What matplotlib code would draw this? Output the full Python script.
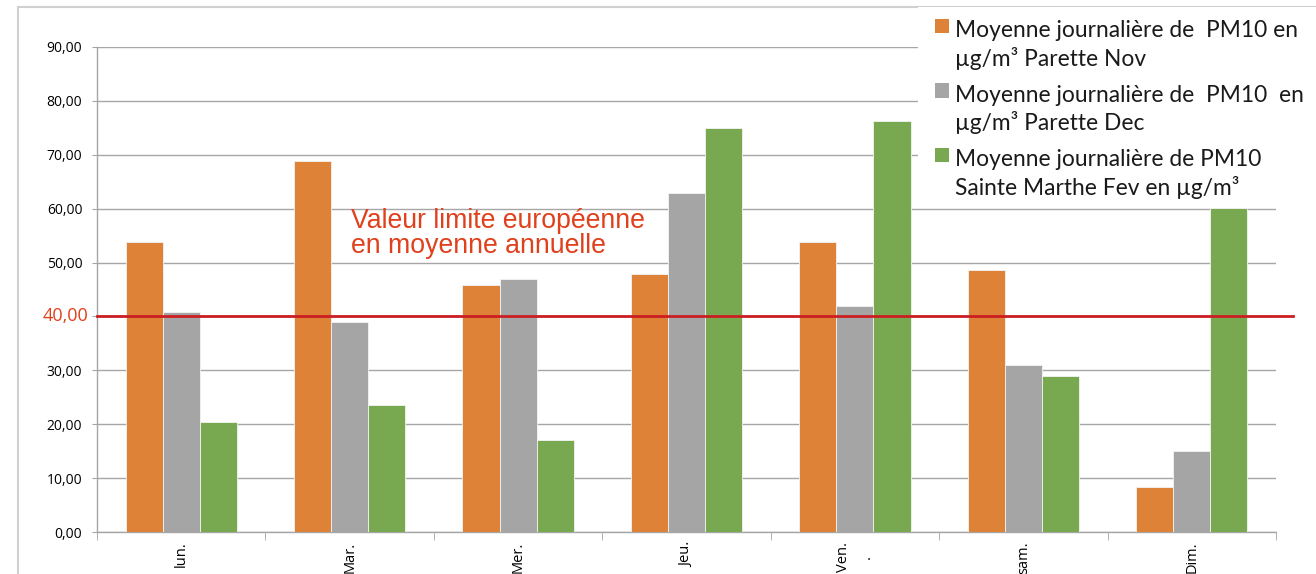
import matplotlib
matplotlib.use("Agg")
from matplotlib import pyplot as plt
from matplotlib.patches import Rectangle
from matplotlib.lines import Line2D
import numpy as np

# data
days = ["lun.", "Mar.", "Mer.", "Jeu.", "Ven.\n.", "sam.", "Dim."]
nov = [53.8, 68.9, 45.9, 47.8, 53.9, 48.7, 8.3]
dec = [40.9, 39.0, 47.0, 63.0, 42.0, 31.0, 15.0]
fev = [20.4, 23.5, 17.0, 75.0, 76.2, 29.0, 60.2]
series_labels = [
    "Moyenne journalière de  PM10 en\nµg/m³ Parette Nov",
    "Moyenne journalière de  PM10  en\nµg/m³ Parette Dec",
    "Moyenne journalière de PM10\nSainte Marthe Fev en µg/m³",
]
limit = 40.0
yticks = np.arange(0, 100, 10)

colors = ["#DD8236", "#A5A5A5", "#78A850"]
W, H = 1316, 574
plt.rcParams['font.family'] = ['Open Sans', 'DejaVu Sans']

fig = plt.figure(figsize=(W / 100, H / 100), dpi=100, facecolor='w')
ax = fig.add_axes([97 / W, 1 - 532 / H, 1179 / W, 485 / H])

# outer chart-area border (light grey)
fig.add_artist(Line2D([18 / W, 1], [1 - 7 / H, 1 - 7 / H], transform=fig.transFigure, color='#D0D0D0', lw=1.5))
fig.add_artist(Line2D([18 / W, 18 / W], [0, 1 - 7 / H], transform=fig.transFigure, color='#D0D0D0', lw=1.5))

x = np.arange(len(days))
bw = 0.22
for i, vals in enumerate([nov, dec, fev]):
    ax.bar(x + (i - 1) * bw, vals, width=bw, color=colors[i], edgecolor='#F4F4F4', linewidth=0.6, zorder=3)

ax.set_xlim(-0.5, len(days) - 0.5)
ax.set_ylim(0, 90)
ax.set_yticks(yticks)
ax.set_yticklabels([f"{v:.2f}".replace('.', ',') if v != limit else "" for v in yticks], fontsize=10)
ax.yaxis.grid(True, color='#A6A6A6', linewidth=1.0, zorder=0)
ax.set_axisbelow(True)

ax.set_xticks(x)
ax.set_xticklabels(days, rotation=90, fontsize=10.5, va='top', ha='center', linespacing=1.8)
ax.set_xticks(np.arange(-0.5, len(days)), minor=True)
ax.tick_params(axis='x', which='major', length=0, pad=7)
ax.tick_params(axis='x', which='minor', length=6, color='#A6A6A6', direction='out')
ax.tick_params(axis='y', length=3.6, color='#A6A6A6', pad=7)

for s in ['top', 'right']:
    ax.spines[s].set_visible(False)
for s in ['left', 'bottom']:
    ax.spines[s].set_color('#A6A6A6')
    ax.spines[s].set_linewidth(1.0)

# 40,00 label in red, larger
ax.annotate("40,00", xy=(0, limit), xycoords=ax.get_yaxis_transform(), xytext=(-9, 0),
            textcoords='offset pixels', color='#E0401C', fontsize=13, ha='right', va='center')

# limit line
ax.axhline(limit, xmin=0, xmax=(1293 - 97) / 1179, color='#CC1E22', linewidth=2, clip_on=False, zorder=5)
ax.text(1.01, 60.1, "Valeur limite européenne\nen moyenne annuelle", color='#E0401C',
        fontsize=19.2, family='Liberation Sans', va='top', ha='left', linespacing=0.95, zorder=6)

# legend (white box over the plot, top right)
fig.add_artist(Rectangle((918 / W, 1 - 202 / H), (W - 918) / W, 195 / H, transform=fig.transFigure,
                         facecolor='w', edgecolor='none', zorder=10))
for i, lab in enumerate(series_labels):
    top = 19 + i * 64.5
    fig.add_artist(Rectangle((935 / W, 1 - (top + 14) / H), 14 / W, 14 / H, transform=fig.transFigure,
                             facecolor=colors[i], edgecolor='none', zorder=11))
    fig.text(955 / W, 1 - (top + 1) / H, lab, fontsize=16.4, family=['Lato', 'DejaVu Sans'],
             va='top', ha='left', linespacing=1.3, color='#1A1A1A', zorder=11)

plt.savefig("out.png", dpi=100)
